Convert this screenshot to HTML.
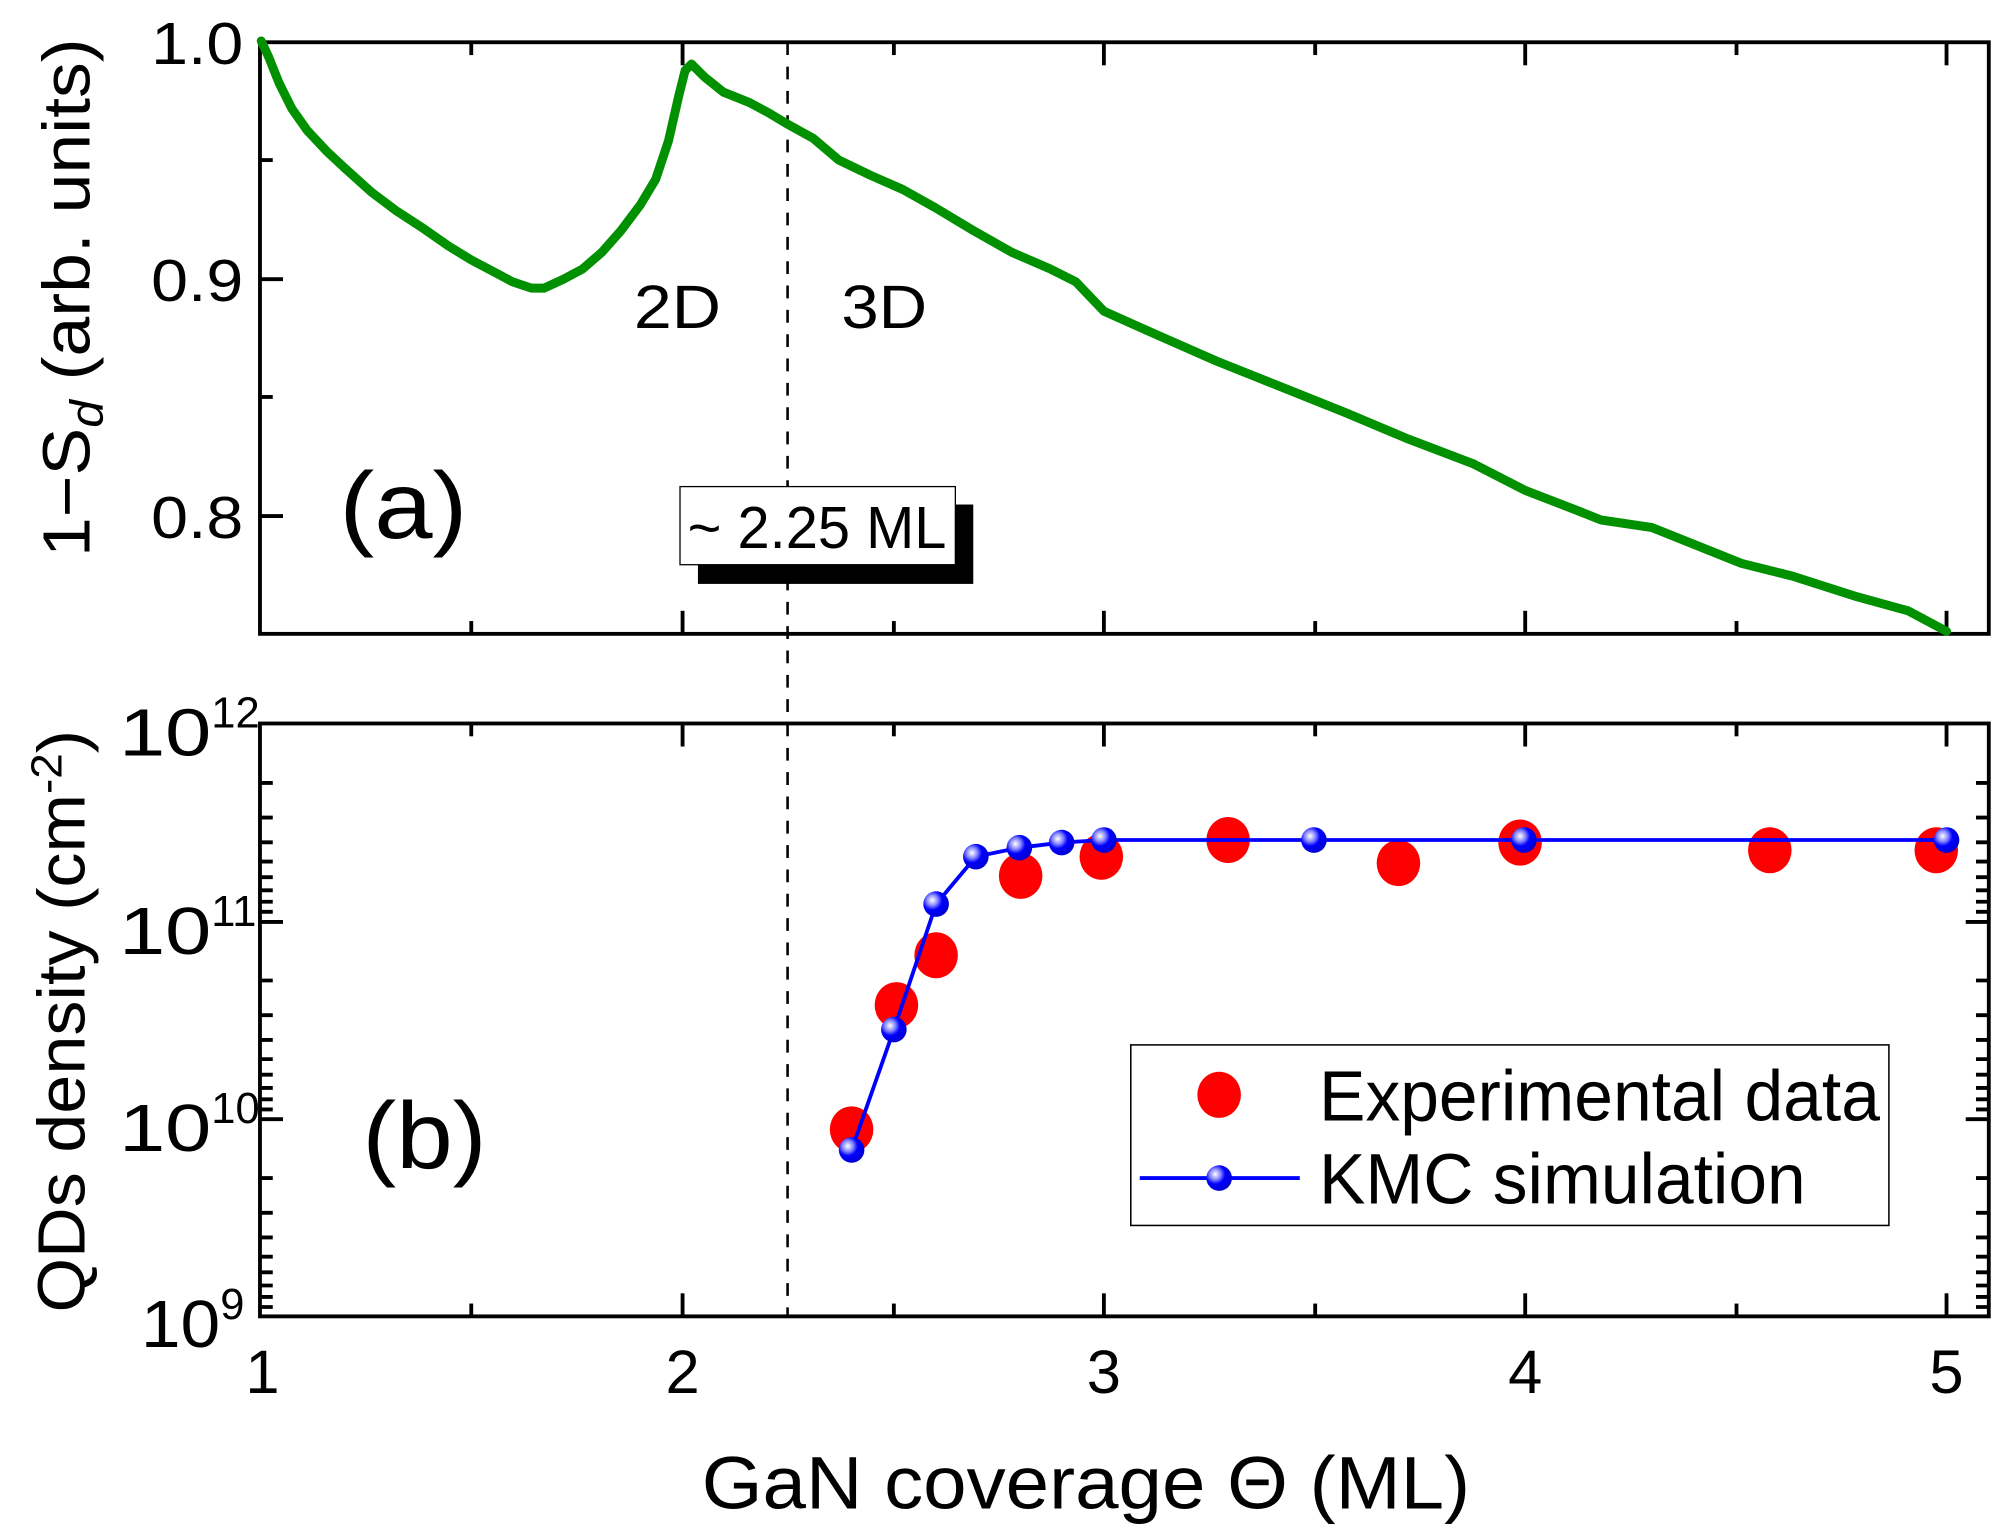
<!DOCTYPE html>
<html><head><meta charset="utf-8"><style>
html,body{margin:0;padding:0;background:#fff;}
svg{display:block;}
text{font-family:"Liberation Sans",Arial,sans-serif;fill:#000;}
</style></head><body>
<svg width="2008" height="1532" viewBox="0 0 1568 1196.4" preserveAspectRatio="none" xmlns="http://www.w3.org/2000/svg">
<defs>
<radialGradient id="bg" cx="0.35" cy="0.35" r="0.7">
<stop offset="0" stop-color="#fff"/><stop offset="0.3" stop-color="#8888ff"/><stop offset="0.55" stop-color="#0000ff"/><stop offset="1" stop-color="#0000cc"/>
</radialGradient>
</defs>
<line x1="615" y1="33" x2="615" y2="1028" stroke="#000" stroke-width="2" stroke-dasharray="10,9"/>
<rect x="203" y="33" width="1350" height="462" fill="none" stroke="#000" stroke-width="3"/>
<g stroke="#000" stroke-width="3">
<line x1="533" y1="33" x2="533" y2="51"/><line x1="862" y1="33" x2="862" y2="51"/><line x1="1191" y1="33" x2="1191" y2="51"/><line x1="1520" y1="33" x2="1520" y2="51"/>
<line x1="368" y1="33" x2="368" y2="43"/><line x1="698" y1="33" x2="698" y2="43"/><line x1="1027" y1="33" x2="1027" y2="43"/><line x1="1356" y1="33" x2="1356" y2="43"/>
<line x1="533" y1="495" x2="533" y2="477"/><line x1="862" y1="495" x2="862" y2="477"/><line x1="1191" y1="495" x2="1191" y2="477"/><line x1="1520" y1="495" x2="1520" y2="477"/>
<line x1="368" y1="495" x2="368" y2="485"/><line x1="698" y1="495" x2="698" y2="485"/><line x1="1027" y1="495" x2="1027" y2="485"/><line x1="1356" y1="495" x2="1356" y2="485"/>
<line x1="203" y1="218" x2="221" y2="218"/><line x1="203" y1="403" x2="221" y2="403"/>
<line x1="203" y1="125" x2="213" y2="125"/><line x1="203" y1="310" x2="213" y2="310"/>
</g>
<polyline fill="none" stroke="#009000" stroke-width="7" stroke-linejoin="round" stroke-linecap="round" points="204,32 210,45 218,65 228,85 240,102 255,118 270,132 290,150 310,165 330,178 350,192 368,203 385,212 400,220 415,225 425,225 440,218 455,210 470,197 485,180 500,160 512,140 522,110 530,75 535,55 540,50 550,60 565,72 585,80 600,88 615,97 635,108 655,125 680,137 705,148 730,162 760,180 790,197 820,210 840,220 862,243 900,260 950,282 1000,302 1050,322 1100,343 1150,362 1191,383 1230,398 1250,406 1290,412 1320,424 1360,440 1400,450 1450,466 1490,477 1520,493"/>
<g font-size="46" text-anchor="end">
<text x="190" y="50" textLength="72" lengthAdjust="spacingAndGlyphs">1.0</text>
<text x="190" y="235" textLength="72" lengthAdjust="spacingAndGlyphs">0.9</text>
<text x="190" y="420" textLength="72" lengthAdjust="spacingAndGlyphs">0.8</text>
</g>
<text x="495" y="256" font-size="48" textLength="68" lengthAdjust="spacingAndGlyphs">2D</text>
<text x="657" y="256" font-size="48" textLength="67" lengthAdjust="spacingAndGlyphs">3D</text>
<text x="265" y="420" font-size="74" textLength="100" lengthAdjust="spacingAndGlyphs">(a)</text>
<text transform="translate(70,435) rotate(-90)" font-size="52" textLength="405" lengthAdjust="spacingAndGlyphs">1−S<tspan font-style="italic" font-size="36" dy="10">d</tspan><tspan dy="-10"> (arb. units)</tspan></text>
<rect x="545" y="394" width="215" height="62" fill="#000"/>
<rect x="531" y="380" width="215" height="61" fill="#fff" stroke="#000" stroke-width="1"/>
<text x="537" y="428" font-size="46" textLength="202" lengthAdjust="spacingAndGlyphs">~ 2.25 ML</text>
<rect x="203" y="565" width="1350" height="463" fill="none" stroke="#000" stroke-width="3"/>
<g stroke="#000" stroke-width="3">
<line x1="533" y1="565" x2="533" y2="583"/><line x1="862" y1="565" x2="862" y2="583"/><line x1="1191" y1="565" x2="1191" y2="583"/><line x1="1520" y1="565" x2="1520" y2="583"/>
<line x1="368" y1="565" x2="368" y2="575"/><line x1="698" y1="565" x2="698" y2="575"/><line x1="1027" y1="565" x2="1027" y2="575"/><line x1="1356" y1="565" x2="1356" y2="575"/>
<line x1="533" y1="1028" x2="533" y2="1010"/><line x1="862" y1="1028" x2="862" y2="1010"/><line x1="1191" y1="1028" x2="1191" y2="1010"/><line x1="1520" y1="1028" x2="1520" y2="1010"/>
<line x1="368" y1="1028" x2="368" y2="1018"/><line x1="698" y1="1028" x2="698" y2="1018"/><line x1="1027" y1="1028" x2="1027" y2="1018"/><line x1="1356" y1="1028" x2="1356" y2="1018"/>
<line x1="203" y1="720" x2="221" y2="720"/><line x1="203" y1="874" x2="221" y2="874"/>
<line x1="1553" y1="720" x2="1535" y2="720"/><line x1="1553" y1="874" x2="1535" y2="874"/>
<path d="M203,611.4h10M203,638.5h10M203,657.8h10M203,672.8h10M203,685h10M203,695.3h10M203,704.2h10M203,712.1h10
M203,765.7h10M203,792.8h10M203,812.1h10M203,827.1h10M203,839.3h10M203,849.6h10M203,858.5h10M203,866.4h10
M203,920h10M203,947.1h10M203,966.4h10M203,981.4h10M203,993.6h10M203,1003.9h10M203,1012.8h10M203,1020.7h10
M1553,611.4h-10M1553,638.5h-10M1553,657.8h-10M1553,672.8h-10M1553,685h-10M1553,695.3h-10M1553,704.2h-10M1553,712.1h-10
M1553,765.7h-10M1553,792.8h-10M1553,812.1h-10M1553,827.1h-10M1553,839.3h-10M1553,849.6h-10M1553,858.5h-10M1553,866.4h-10
M1553,920h-10M1553,947.1h-10M1553,966.4h-10M1553,981.4h-10M1553,993.6h-10M1553,1003.9h-10M1553,1012.8h-10M1553,1020.7h-10"/>
</g>
<g fill="#ff0000">
<ellipse cx="665" cy="882" rx="17" ry="18"/><ellipse cx="700" cy="785" rx="17" ry="18"/><ellipse cx="731" cy="746" rx="17" ry="18"/><ellipse cx="797" cy="684" rx="17" ry="18"/><ellipse cx="860" cy="669" rx="17" ry="18"/><ellipse cx="959" cy="656" rx="17" ry="18"/><ellipse cx="1092" cy="674" rx="17" ry="18"/><ellipse cx="1187" cy="658" rx="17" ry="18"/><ellipse cx="1382" cy="664" rx="17" ry="18"/><ellipse cx="1512" cy="664" rx="17" ry="18"/>
</g>
<polyline fill="none" stroke="#0000ff" stroke-width="3" points="665,898 698,804 731,706 762,669 796,662 829,658 862,656 1026,656 1190,656 1520,656"/>
<g fill="url(#bg)">
<ellipse cx="665" cy="898" rx="10" ry="10"/><ellipse cx="698" cy="804" rx="10" ry="10"/><ellipse cx="731" cy="706" rx="10" ry="10"/><ellipse cx="762" cy="669" rx="10" ry="10"/><ellipse cx="796" cy="662" rx="10" ry="10"/><ellipse cx="829" cy="658" rx="10" ry="10"/><ellipse cx="862" cy="656" rx="10" ry="10"/><ellipse cx="1026" cy="656" rx="10" ry="10"/><ellipse cx="1190" cy="656" rx="10" ry="10"/><ellipse cx="1520" cy="656" rx="10" ry="10"/>
</g>
<rect x="883" y="816" width="592" height="141" fill="#fff" stroke="#000" stroke-width="1.2"/>
<ellipse cx="952" cy="855" rx="17" ry="18" fill="#ff0000"/>
<line x1="890" y1="920" x2="1015" y2="920" stroke="#0000ff" stroke-width="3"/>
<ellipse cx="952" cy="920" rx="10" ry="10" fill="url(#bg)"/>
<text x="1030" y="875" font-size="56" textLength="438" lengthAdjust="spacingAndGlyphs">Experimental data</text>
<text x="1030" y="940" font-size="56" textLength="380" lengthAdjust="spacingAndGlyphs">KMC simulation</text>
<text x="283" y="912" font-size="74" textLength="97" lengthAdjust="spacingAndGlyphs">(b)</text>
<g font-size="52">
<text x="93" y="590"><tspan textLength="72" lengthAdjust="spacingAndGlyphs">10</tspan><tspan font-size="34" dy="-22">12</tspan></text>
<text x="93" y="745"><tspan textLength="72" lengthAdjust="spacingAndGlyphs">10</tspan><tspan font-size="34" dy="-22">11</tspan></text>
<text x="93" y="899"><tspan textLength="72" lengthAdjust="spacingAndGlyphs">10</tspan><tspan font-size="34" dy="-22">10</tspan></text>
<text x="110" y="1052"><tspan textLength="62" lengthAdjust="spacingAndGlyphs">10</tspan><tspan font-size="34" dy="-22">9</tspan></text>
</g>
<g font-size="48" text-anchor="middle">
<text x="205" y="1088">1</text><text x="533" y="1088">2</text><text x="862" y="1088">3</text><text x="1191" y="1088">4</text><text x="1520" y="1088">5</text>
</g>
<text transform="translate(66,1025) rotate(-90)" font-size="52" textLength="455" lengthAdjust="spacingAndGlyphs">QDs density (cm<tspan font-size="34" dy="-18">-2</tspan><tspan dy="18">)</tspan></text>
<text x="548" y="1178" font-size="58" textLength="600" lengthAdjust="spacingAndGlyphs">GaN coverage Θ  (ML)</text>
</svg>
</body></html>
